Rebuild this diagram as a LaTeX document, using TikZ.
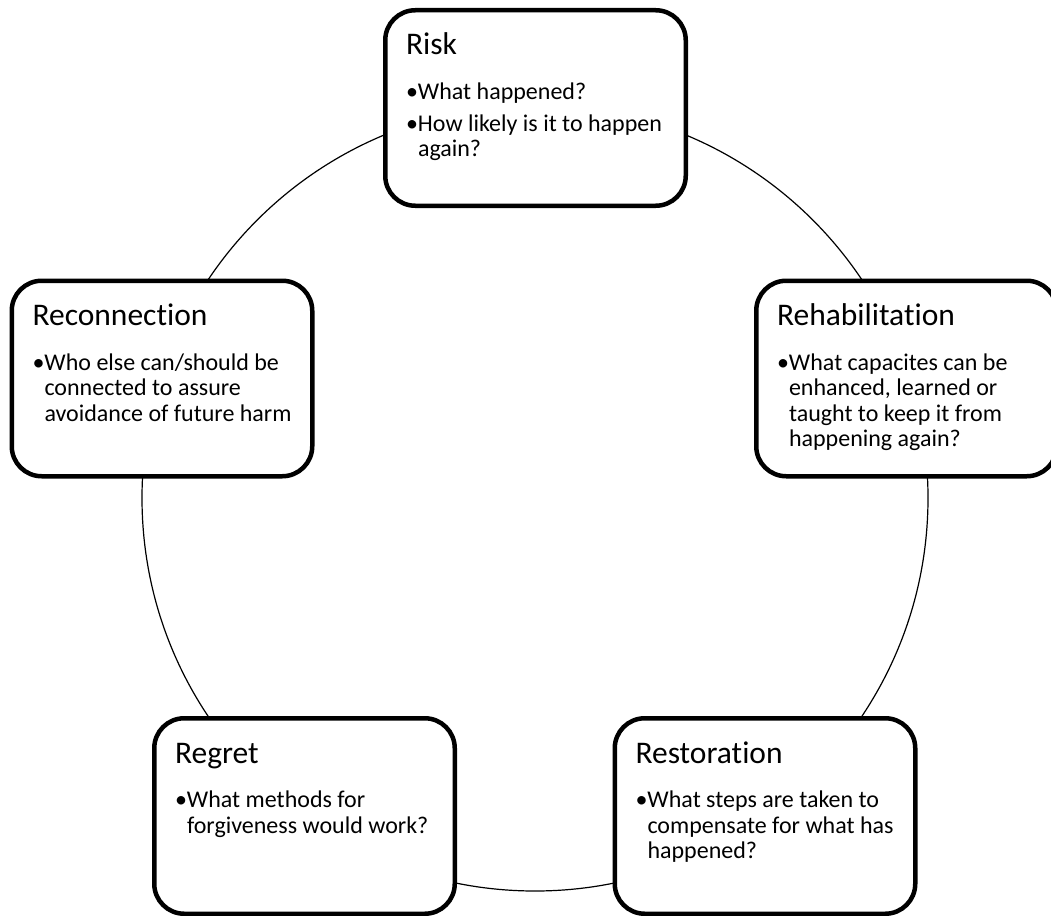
\documentclass[tikz,border=0pt]{standalone}
\usepackage{fontspec}
\setmainfont{Carlito}[Ligatures=NoCommon]
\usepackage{tikz}
\usetikzlibrary{positioning}

\newcommand{\stagetitle}{\fontsize{31.5}{36}\selectfont}
\newcommand{\stagebody}{\fontsize{24}{25.5}\selectfont}
\newcommand{\qitem}[1]{\par\hangindent=12pt\hangafter=1\noindent\makebox[12pt][l]{•}#1}
\newcommand{\stagetext}[2]{%
  \parbox[t][195.5pt][t]{259pt}{\setlength{\parskip}{6.5pt}%
    \stagetitle\rule{0pt}{44.75pt}#1\par\vspace{12.5pt}\stagebody #2}}

\begin{document}
\begin{tikzpicture}[x=1pt, y=-1pt,
  stage/.style={draw, line width=4.5pt, rounded corners=30pt, fill=white,
    minimum width=300.5pt, minimum height=195.5pt, inner xsep=20.75pt, inner ysep=0pt},
  cycle/.style={line width=1.2pt}]
\useasboundingbox (0,0) rectangle (1051,915);
\coordinate (hub) at (535,498);
\draw[cycle] (hub) circle[radius=393pt];

\node[stage] (risk) at (535.5,108) {\stagetext{Risk}{%
  \qitem{What happened?}\qitem{How likely is it to happen\\again?}}};
\node[stage] (reconn) at (162,378.5) {\stagetext{Reconnection}{%
  \qitem{Who else can/should be\\connected to assure\\avoidance of future harm}}};
\node[stage] (rehab) at (906.5,378.5) {\stagetext{Rehabilitation}{%
  \qitem{What capacites can be\\enhanced, learned or\\taught to keep it from\\happening again?}}};
\node[stage] (regret) at (304.5,816) {\stagetext{Regret}{%
  \qitem{What methods for\\forgiveness would work?}}};
\node[stage] (restor) at (765,816) {\stagetext{Restoration}{%
  \qitem{What steps are taken to\\compensate for what has\\happened?}}};
\end{tikzpicture}
\end{document}
